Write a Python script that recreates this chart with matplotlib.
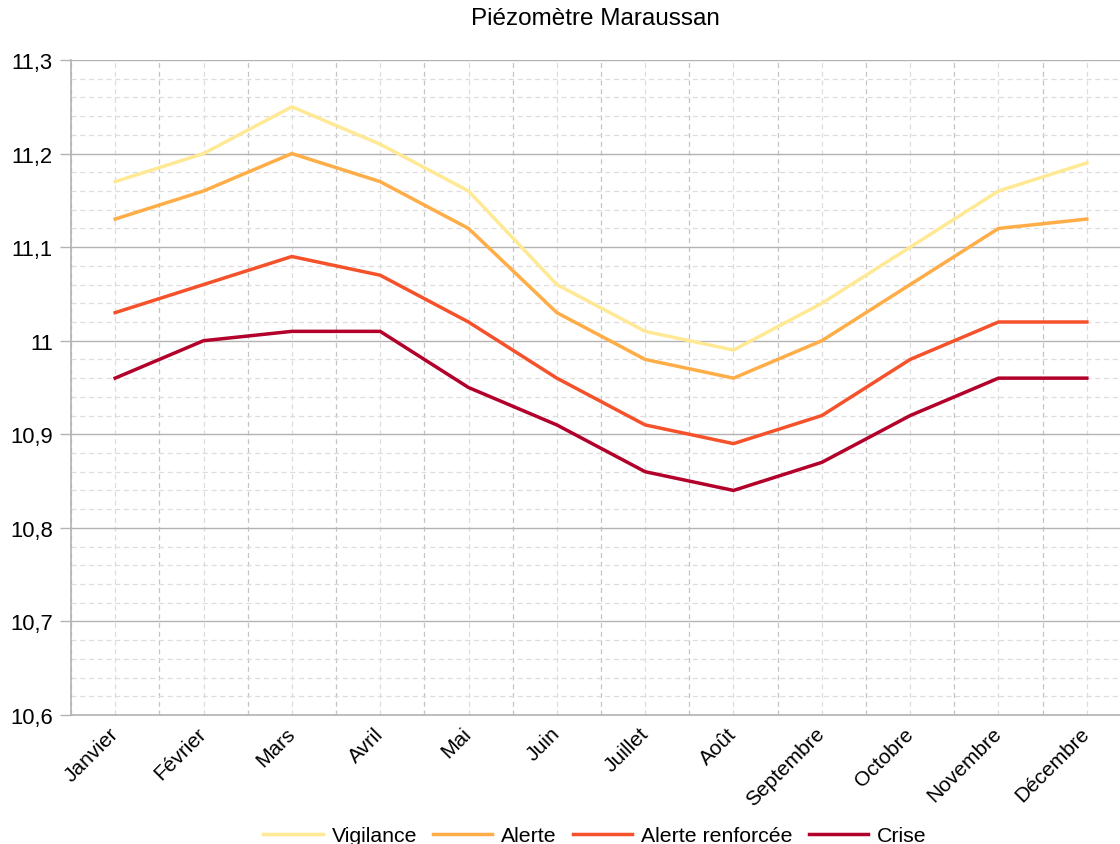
import matplotlib
matplotlib.use("Agg")
import matplotlib.pyplot as plt
from matplotlib.ticker import MultipleLocator, FixedLocator

plt.rcParams['font.family'] = ['Liberation Sans', 'DejaVu Sans']

mois = ["Janvier", "Février", "Mars", "Avril", "Mai", "Juin", "Juillet",
        "Août", "Septembre", "Octobre", "Novembre", "Décembre"]

vigilance = [11.17, 11.20, 11.25, 11.21, 11.16, 11.06, 11.01, 10.99, 11.04, 11.10, 11.16, 11.19]
alerte = [11.13, 11.16, 11.20, 11.17, 11.12, 11.03, 10.98, 10.96, 11.00, 11.06, 11.12, 11.13]
alerte_renforcee = [11.03, 11.06, 11.09, 11.07, 11.02, 10.96, 10.91, 10.89, 10.92, 10.98, 11.02, 11.02]
crise = [10.96, 11.00, 11.01, 11.01, 10.95, 10.91, 10.86, 10.84, 10.87, 10.92, 10.96, 10.96]

series = [
    ("Vigilance", vigilance, "#FFE994"),
    ("Alerte", alerte, "#FFAD47"),
    ("Alerte renforcée", alerte_renforcee, "#F5522B"),
    ("Crise", crise, "#B2002B"),
]

W, H = 1120, 845
fig = plt.figure(figsize=(W / 100, H / 100), dpi=100)
left, right, top, bottom = 71, 1131, 61, 716
ax = fig.add_axes([left / W, 1 - bottom / H, (right - left) / W, (bottom - top) / H])

x = list(range(len(mois)))
for name, vals, col in series:
    ax.plot(x, vals, color=col, lw=2.5, label=name, solid_joinstyle='miter', zorder=3)

ax.set_xlim(-0.5, len(mois) - 0.5)
ax.set_ylim(10.6, 11.3)

# y axis: major every 0.1 (solid), minor every 0.02 (dashed)
ax.yaxis.set_major_locator(MultipleLocator(0.1))
ax.yaxis.set_minor_locator(MultipleLocator(0.02))
ax.yaxis.set_major_formatter(matplotlib.ticker.FuncFormatter(
    lambda v, p: ("%g" % round(v, 2)).replace(".", ",")))
ax.grid(True, which='major', axis='y', color='#b3b3b3', lw=1.0, ls='-', zorder=0)
ax.grid(True, which='minor', axis='y', color='#dddddd', lw=0.9, ls=(0, (4, 3)), zorder=0)

# x axis: labels at category centres, boundaries as minor grid
ax.set_xticks(x)
ax.set_xticklabels(mois)
ax.xaxis.set_minor_locator(FixedLocator([i - 0.5 for i in range(len(mois) + 1)]))
ax.grid(True, which='major', axis='x', color='#dddddd', lw=0.9, ls=(0, (4, 3)), zorder=0)
ax.grid(True, which='minor', axis='x', color='#c4c4c4', lw=0.9, ls=(0, (4, 3)), zorder=0)

ax.tick_params(axis='y', which='major', length=8, width=1, color='#b3b3b3',
               labelsize=15.8, pad=5, labelcolor='black')
ax.tick_params(axis='y', which='minor', length=0)
ax.tick_params(axis='x', which='both', length=0, labelsize=15, pad=11)
for lab in ax.get_xticklabels():
    lab.set_rotation(45)
    lab.set_rotation_mode('anchor')
    lab.set_ha('right')
    lab.set_va('center')

for s in ('top', 'right'):
    ax.spines[s].set_visible(False)
for s in ('left', 'bottom'):
    ax.spines[s].set_color('#b3b3b3')
    ax.spines[s].set_linewidth(1.2)

fig.text(595 / W, 1 - 19 / H, "Piézomètre Maraussan", ha='center', va='center', fontsize=17.5)

handles, labels = ax.get_legend_handles_labels()
fig.legend(handles, labels, loc='center', bbox_to_anchor=(595 / W, 1 - 837 / H),
           ncol=4, frameon=False, fontsize=15.3, handlelength=2.8, handletextpad=0.42,
           columnspacing=0.75, borderaxespad=0)

fig.savefig("out.png", dpi=100)
